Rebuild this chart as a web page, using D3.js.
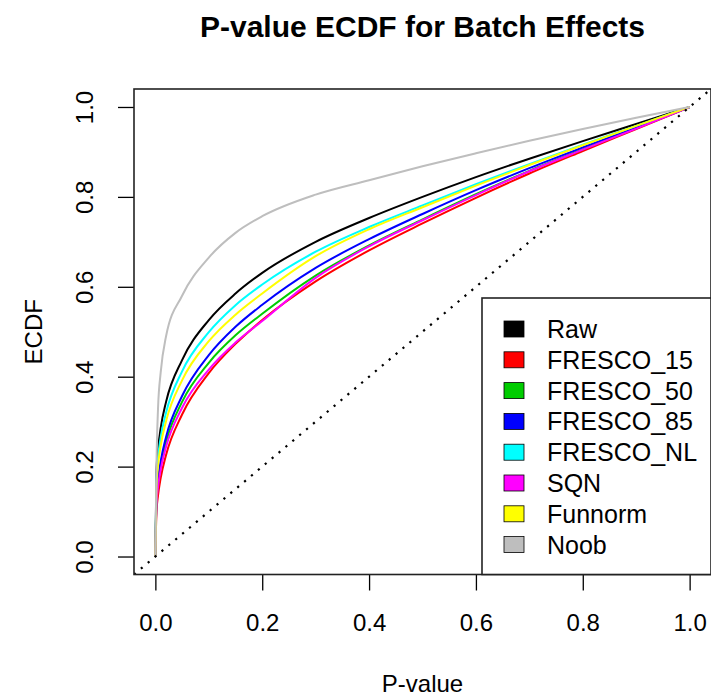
<!DOCTYPE html>
<html>
<head>
<meta charset="utf-8">
<script src="https://cdn.jsdelivr.net/npm/d3@7"></script>
<style>
  body { margin: 0; background: #fff; }
  text { font-family: "Liberation Sans", Arial, Helvetica, sans-serif; fill: #000; }
</style>
</head>
<body>
<div id="chart"></div>
<script>
// p-value grid shared by every series
const pGrid = [0, 0.002, 0.005, 0.01, 0.02, 0.05, 0.1, 0.15, 0.2, 0.3, 0.4, 0.5, 0.6, 0.7, 0.8, 0.9, 1.0];

// ECDF values, one per pGrid entry
const rawVals       = [0, 0.187, 0.238, 0.286, 0.344, 0.437, 0.526, 0.585, 0.631, 0.700, 0.753, 0.800, 0.844, 0.885, 0.924, 0.962, 1];
const fresco15Vals  = [0, 0.097, 0.136, 0.175, 0.226, 0.316, 0.408, 0.473, 0.526, 0.612, 0.681, 0.741, 0.798, 0.852, 0.902, 0.951, 1];
const fresco50Vals  = [0, 0.121, 0.163, 0.204, 0.255, 0.344, 0.431, 0.492, 0.540, 0.625, 0.692, 0.750, 0.806, 0.858, 0.906, 0.953, 1];
const fresco85Vals  = [0, 0.126, 0.170, 0.212, 0.266, 0.357, 0.448, 0.511, 0.560, 0.642, 0.706, 0.762, 0.815, 0.864, 0.910, 0.955, 1];
const frescoNLVals  = [0, 0.170, 0.219, 0.265, 0.320, 0.412, 0.499, 0.559, 0.605, 0.678, 0.733, 0.781, 0.828, 0.873, 0.916, 0.958, 1];
const sqnVals       = [0, 0.114, 0.155, 0.194, 0.244, 0.331, 0.416, 0.476, 0.524, 0.620, 0.690, 0.748, 0.804, 0.857, 0.905, 0.952, 1];
const funnormVals   = [0, 0.155, 0.202, 0.247, 0.301, 0.392, 0.479, 0.538, 0.585, 0.668, 0.728, 0.777, 0.825, 0.871, 0.915, 0.958, 1];
const noobVals      = [0, 0.200, 0.330, 0.410, 0.490, 0.580, 0.665, 0.720, 0.757, 0.805, 0.837, 0.868, 0.897, 0.925, 0.951, 0.976, 1];

const seriesNames  = ["Raw", "FRESCO_15", "FRESCO_50", "FRESCO_85", "FRESCO_NL", "SQN", "Funnorm", "Noob"];
const seriesColors = ["#000000", "#FF0000", "#00CD00", "#0000FF", "#00FFFF", "#FF00FF", "#FFFF00", "#BEBEBE"];
const seriesValues = [rawVals, fresco15Vals, fresco50Vals, fresco85Vals, frescoNLVals, sqnVals, funnormVals, noobVals];

const tickValues = [0, 0.2, 0.4, 0.6, 0.8, 1.0];

const titleText = "P-value ECDF for Batch Effects";
const xLabel = "P-value";
const yLabel = "ECDF";

drawChart();

function drawChart() {
  const width = 711;
  const height = 698;
  // plot box (R style, 4% padding around [0,1])
  const box = { left: 134, right: 711, top: 89, bottom: 574.5 };

  const svg = d3.select("#chart").append("svg")
    .attr("width", width)
    .attr("height", height);

  const x = d3.scaleLinear().domain([-0.04, 1.04]).range([box.left, box.right]);
  const y = d3.scaleLinear().domain([-0.04, 1.04]).range([box.bottom, box.top]);

  const plot = svg.append("g");
  const clipId = "plotclip";
  svg.append("clipPath").attr("id", clipId)
    .append("rect")
    .attr("x", box.left).attr("y", box.top)
    .attr("width", box.right - box.left).attr("height", box.bottom - box.top);

  const line = d3.line()
    .x(d => x(d[0]))
    .y(d => y(d[1]))
    .curve(d3.curveMonotoneX);

  // one ECDF curve per method
  seriesValues.forEach((vals, i) => {
    const pts = pGrid.map((p, j) => [p, vals[j]]);
    plot.append("path")
      .attr("d", line(pts))
      .attr("fill", "none")
      .attr("stroke", seriesColors[i])
      .attr("stroke-width", 2);
  });

  // reference diagonal y = x, spans the whole box
  plot.append("line")
    .attr("clip-path", `url(#${clipId})`)
    .attr("x1", x(-0.04)).attr("y1", y(-0.04))
    .attr("x2", x(1.04)).attr("y2", y(1.04))
    .attr("stroke", "#000")
    .attr("stroke-width", 2.2)
    .attr("stroke-dasharray", "2.2,6.8");

  // x axis
  const xAxis = svg.append("g")
    .attr("transform", `translate(0,${box.bottom})`)
    .call(d3.axisBottom(x).tickValues(tickValues).tickSize(16).tickFormat(d3.format(".1f")));
  xAxis.select(".domain").remove();
  xAxis.selectAll("line").attr("stroke", "#000").attr("stroke-width", 1.3);
  xAxis.selectAll("text")
    .attr("y", 0)
    .attr("dy", 0)
    .attr("transform", "translate(0,56)")
    .style("font-size", "24px")
    .style("font-family", "'Liberation Sans', Arial, sans-serif");

  // y axis with rotated labels
  const yAxis = svg.append("g")
    .attr("transform", `translate(${box.left},0)`)
    .call(d3.axisLeft(y).tickValues(tickValues).tickSize(16).tickFormat(d3.format(".1f")));
  yAxis.select(".domain").remove();
  yAxis.selectAll("line").attr("stroke", "#000").attr("stroke-width", 1.3);
  yAxis.selectAll("text")
    .attr("x", 0)
    .attr("dy", 0)
    .attr("text-anchor", "middle")
    .attr("transform", "translate(-41,0) rotate(-90)")
    .style("font-size", "24px")
    .style("font-family", "'Liberation Sans', Arial, sans-serif");

  // plot box
  svg.append("rect")
    .attr("x", box.left).attr("y", box.top)
    .attr("width", box.right - box.left).attr("height", box.bottom - box.top)
    .attr("fill", "none")
    .attr("stroke", "#222")
    .attr("stroke-width", 1.6);

  // titles
  svg.append("text")
    .attr("x", (box.left + box.right) / 2)
    .attr("y", 37)
    .attr("text-anchor", "middle")
    .style("font-size", "30px")
    .style("font-weight", "bold")
    .text(titleText);

  svg.append("text")
    .attr("x", (box.left + box.right) / 2)
    .attr("y", 692)
    .attr("text-anchor", "middle")
    .style("font-size", "24px")
    .text(xLabel);

  svg.append("text")
    .attr("transform", `translate(42,${(box.top + box.bottom) / 2}) rotate(-90)`)
    .attr("text-anchor", "middle")
    .style("font-size", "24px")
    .text(yLabel);

  // legend, bottom right
  const legend = { left: 482, top: 298, right: box.right, bottom: box.bottom, row0: 329, step: 30.8 };
  svg.append("rect")
    .attr("x", legend.left).attr("y", legend.top)
    .attr("width", legend.right - legend.left).attr("height", legend.bottom - legend.top)
    .attr("fill", "#fff")
    .attr("stroke", "#222")
    .attr("stroke-width", 1.6);

  const items = svg.append("g").selectAll("g")
    .data(seriesNames)
    .join("g")
    .attr("transform", (d, i) => `translate(0,${legend.row0 + i * legend.step})`);

  items.append("rect")
    .attr("x", 504).attr("y", -8)
    .attr("width", 20).attr("height", 16)
    .attr("fill", (d, i) => seriesColors[i])
    .attr("stroke", "#000")
    .attr("stroke-width", 0.8);

  items.append("text")
    .attr("x", 547)
    .attr("y", 9)
    .style("font-size", "25px")
    .text(d => d);
}
</script>
</body>
</html>
